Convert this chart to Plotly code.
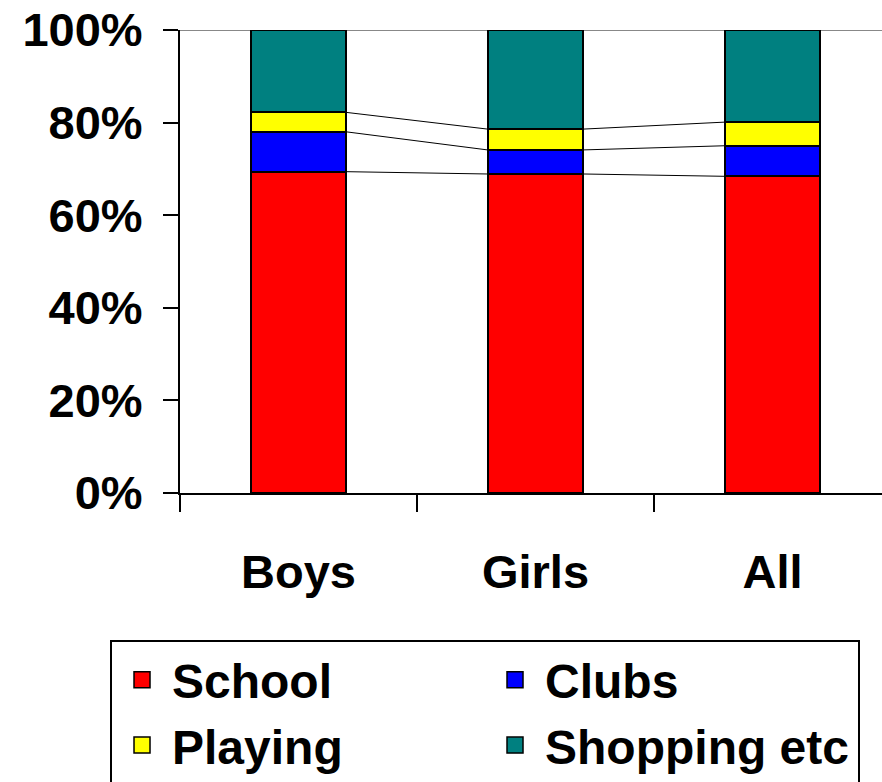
import plotly.graph_objects as go

# Share of time by setting (percent of total)
groups = ["Boys", "Girls", "All"]
school = [69.4, 68.9, 68.4]
clubs = [8.6, 5.2, 6.6]
playing = [4.2, 4.5, 5.1]
shopping = [17.8, 21.4, 19.9]

series_names = ["School", "Clubs", "Playing", "Shopping etc"]
series_values = [school, clubs, playing, shopping]
series_colors = ["#FF0000", "#0000FF", "#FFFF00", "#008080"]

y_ticks = [0, 20, 40, 60, 80, 100]
y_tick_labels = ["0%", "20%", "40%", "60%", "80%", "100%"]

BAR_W = 0.405
FONT = dict(family="Liberation Sans, Arial, sans-serif", size=47, color="black", weight="bold")
LEGEND_FONT = dict(FONT, size=48)

fig = go.Figure()
n = len(groups)

for name, vals, col in zip(series_names, series_values, series_colors):
    fig.add_trace(go.Bar(
        x=groups, y=vals, name=name, width=BAR_W, legendgroup=name, showlegend=False,
        marker=dict(color=col, line=dict(color="black", width=2)),
    ))
    # legend entry with a larger square swatch
    fig.add_trace(go.Scatter(
        x=[None], y=[None], name=name, legendgroup=name, mode="markers",
        marker=dict(symbol="square", size=16, color=col, line=dict(color="black", width=1.5)),
    ))

# Series lines joining the stack boundaries of neighbouring bars (numeric overlay axis)
cum = [0.0] * n
for vals in series_values[:-1]:
    cum = [c + v for c, v in zip(cum, vals)]
    xs, ys = [], []
    for i in range(n - 1):
        xs += [i + BAR_W / 2, i + 1 - BAR_W / 2, None]
        ys += [cum[i], cum[i + 1], None]
    fig.add_trace(go.Scatter(x=xs, y=ys, xaxis="x2", mode="lines", showlegend=False,
                             line=dict(color="black", width=1), hoverinfo="skip"))

x_range = [-0.5, n - 0.5 - 9 / 237]

fig.update_layout(
    barmode="stack",
    width=882, height=782,
    margin=dict(l=180, r=0, t=30, b=289, autoexpand=False),
    paper_bgcolor="white", plot_bgcolor="white",
    font=FONT,
    showlegend=True,
    legend=dict(
        orientation="h", x=-0.0997, y=-0.3175, xanchor="left", yanchor="top",
        bordercolor="black", borderwidth=2, bgcolor="white",
        entrywidth=308, entrywidthmode="pixels", traceorder="normal",
        itemwidth=50, itemsizing="trace",
        font=LEGEND_FONT,
    ),
    xaxis=dict(
        type="category", range=x_range, categoryorder="array", categoryarray=groups,
        tickson="boundaries", ticks="outside", ticklen=17, tickwidth=2, tickcolor="black",
        showline=True, linecolor="black", linewidth=2, showgrid=False, zeroline=False,
        ticklabelstandoff=37, fixedrange=True,
    ),
    xaxis2=dict(
        overlaying="x", range=x_range, visible=False, fixedrange=True,
    ),
    yaxis=dict(
        range=[0, 100], tickvals=y_ticks, ticktext=y_tick_labels,
        ticks="outside", ticklen=15, tickwidth=2, tickcolor="black",
        showline=True, linecolor="black", linewidth=2, showgrid=False, zeroline=False,
        ticklabelstandoff=11, fixedrange=True,
    ),
    shapes=[dict(type="line", xref="paper", yref="y", x0=0, x1=1, y0=100, y1=100,
                 line=dict(color="#888888", width=2), layer="below")],
)

fig.write_html("out.html")
